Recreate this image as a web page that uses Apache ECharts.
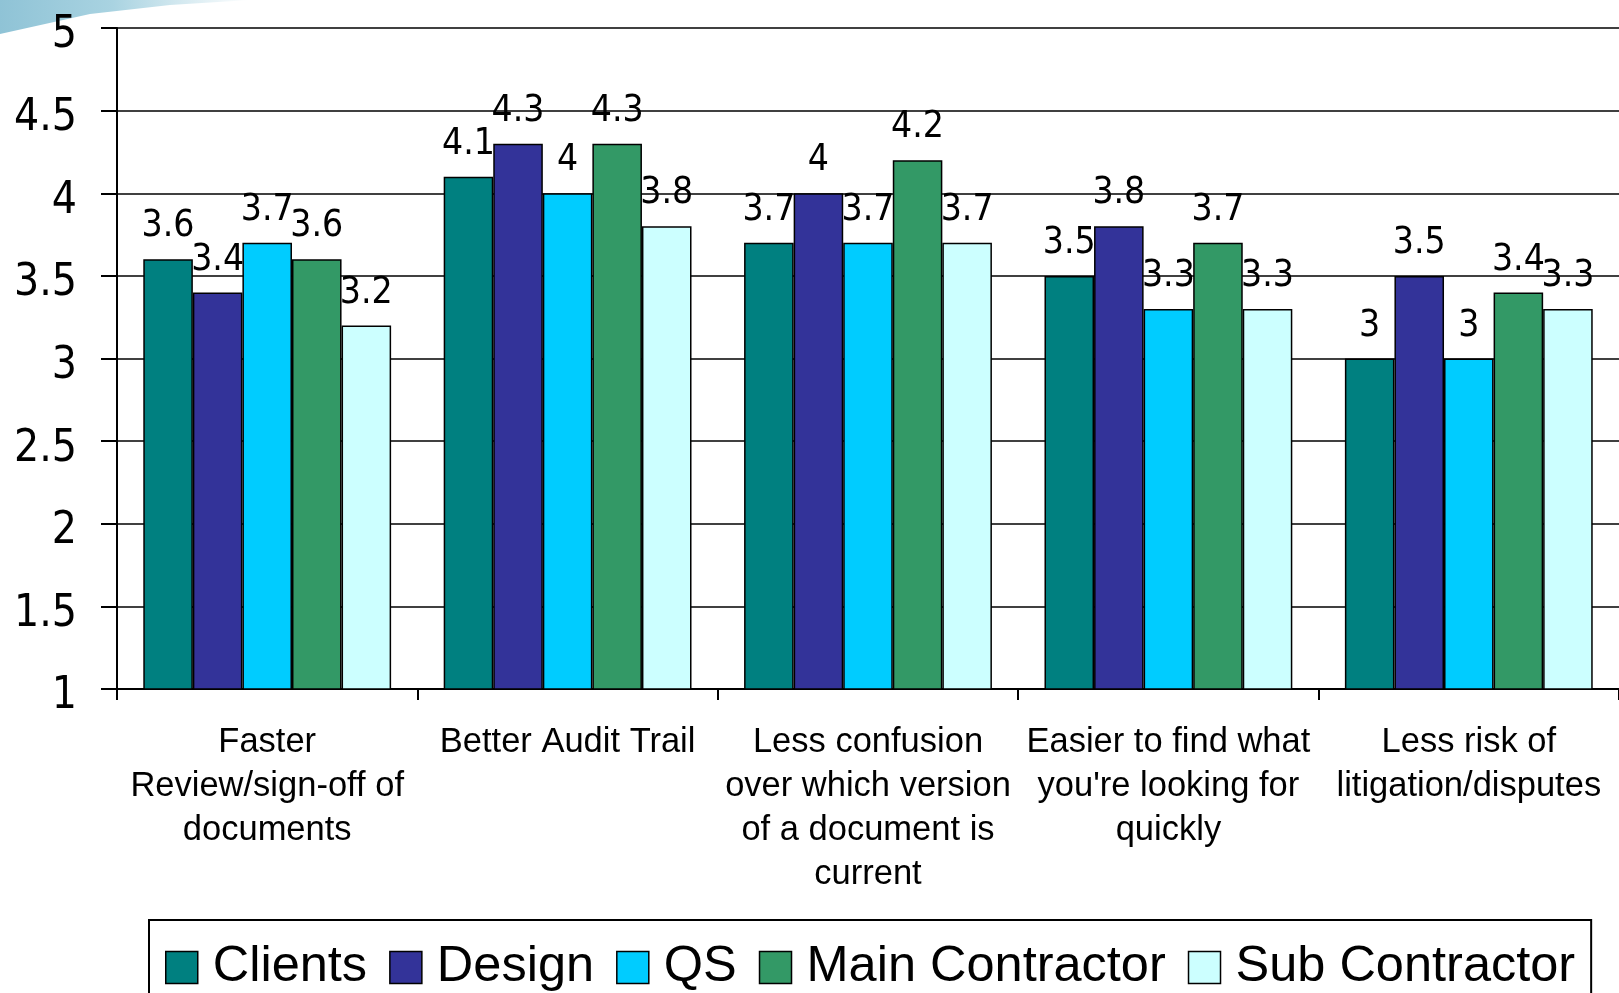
<!DOCTYPE html>
<html>
<head>
<meta charset="utf-8">
<script src="https://cdn.jsdelivr.net/npm/echarts@6/dist/echarts.min.js"></script>
<style>
  html, body { margin: 0; padding: 0; background: #fff; }
  #chart { width: 1619px; height: 993px; }
</style>
</head>
<body>
<div id="chart"></div>
<script>
// benefit categories along the x axis
var categories = [
    'Faster\nReview/sign-off of\ndocuments',
    'Better Audit Trail',
    'Less confusion\nover which version\nof a document is\ncurrent',
    "Easier to find what\nyou're looking for\nquickly",
    'Less risk of\nlitigation/disputes'
];

// average score per respondent group
var clients = [3.6, 4.1, 3.7, 3.5, 3.0];
var design = [3.4, 4.3, 4.0, 3.8, 3.5];
var qs = [3.7, 4.0, 3.7, 3.3, 3.0];
var mainContractor = [3.6, 4.3, 4.2, 3.7, 3.4];
var subContractor = [3.2, 3.8, 3.7, 3.3, 3.3];

var seriesNames = ['Clients', 'Design', 'QS', 'Main Contractor', 'Sub Contractor'];
var seriesData = [clients, design, qs, mainContractor, subContractor];
var colors = ['#008080', '#333399', '#00ccff', '#339966', '#ccffff'];

var yMin = 1, yMax = 5, yStep = 0.5;

var myChart = echarts.init(document.getElementById('chart'));

var series = seriesNames.map(function (name, i) {
    return {
        name: name,
        type: 'bar',
        data: seriesData[i],
        barGap: '0%',
        barCategoryGap: '17.5%',
        itemStyle: {
            color: colors[i],
            borderColor: '#000',
            borderWidth: 1.5
        },
        label: {
            show: true,
            position: 'top',
            distance: 14,
            color: '#000',
            fontFamily: 'DejaVu Sans Condensed',
            fontSize: 37
        }
    };
});

myChart.setOption({
    animation: false,
    color: colors,
    // slide decoration in the top-left corner
    graphic: [{
        type: 'polygon',
        z: -10,
        shape: {
            points: [[0, 0], [250, 0], [170, 5], [90, 14], [0, 34]]
        },
        style: {
            fill: new echarts.graphic.LinearGradient(0, 0, 1, 0, [
                { offset: 0, color: '#8fc3d6' },
                { offset: 0.45, color: '#a9d3e1' },
                { offset: 1, color: '#ffffff' }
            ])
        }
    }],
    grid: {
        left: 117,
        top: 28,
        width: 1515,
        height: 661
    },
    legend: {
        data: seriesNames,
        left: 149,
        top: 920,
        orient: 'horizontal',
        icon: 'rect',
        itemWidth: 32,
        itemHeight: 32,
        itemGap: 22,
        padding: [22, 16, 30, 16],
        borderColor: '#000',
        borderWidth: 2,
        itemStyle: {
            borderColor: '#000',
            borderWidth: 1.5
        },
        textStyle: {
            color: '#000',
            fontFamily: 'Liberation Sans',
            fontSize: 50.5,
            padding: [0, 0, 0, 10]
        }
    },
    xAxis: {
        type: 'category',
        data: categories,
        axisLine: { lineStyle: { color: '#000', width: 2 } },
        axisTick: { show: true, length: 11, lineStyle: { color: '#000', width: 2 } },
        axisLabel: {
            interval: 0,
            margin: 31,
            color: '#000',
            fontFamily: 'Liberation Sans',
            fontSize: 34.5,
            lineHeight: 44
        }
    },
    yAxis: {
        type: 'value',
        min: yMin,
        max: yMax,
        interval: yStep,
        axisLine: { show: true, lineStyle: { color: '#000', width: 2 } },
        axisTick: { show: true, length: 16, lineStyle: { color: '#000', width: 2 } },
        splitLine: { show: true, lineStyle: { color: '#000', width: 1.5 } },
        axisLabel: {
            margin: 40,
            formatter: '{v|{value}}',
            rich: {
                v: {
                    padding: [16, 0, 0, 0],
                    color: '#000',
                    fontFamily: 'DejaVu Sans Condensed',
                    fontSize: 44
                }
            }
        }
    },
    series: series
});
</script>
</body>
</html>
